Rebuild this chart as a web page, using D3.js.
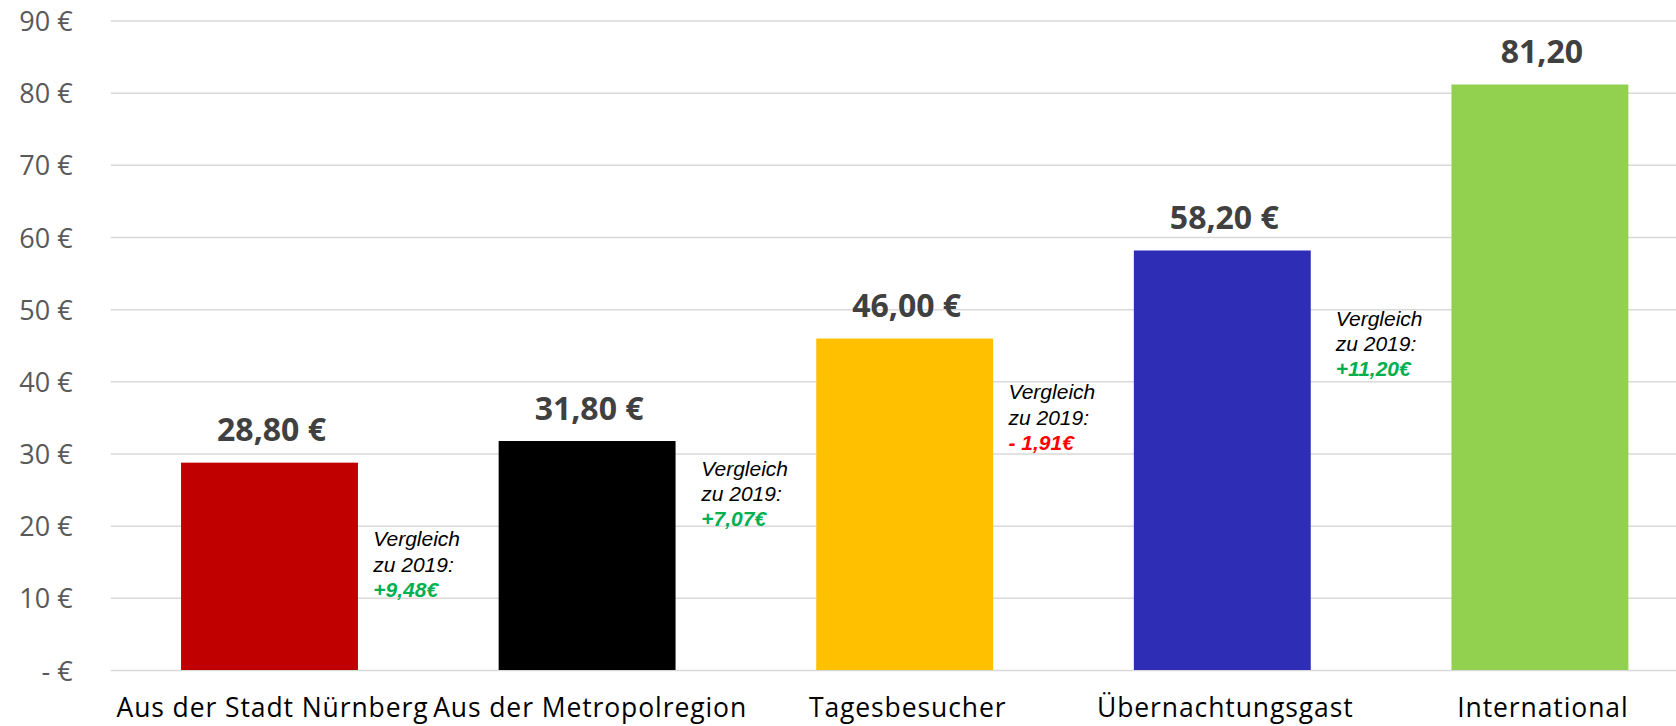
<!DOCTYPE html>
<html>
<head>
<meta charset="utf-8">
<script src="https://cdn.jsdelivr.net/npm/d3@7"></script>
<style>
  body { margin: 0; background: #fff; }
  svg { display: block; }
</style>
</head>
<body>
<div id="chart"></div>
<script>
// Data
const categories = ["Aus der Stadt Nürnberg", "Aus der Metropolregion", "Tagesbesucher", "Übernachtungsgast", "International"];
const values = [28.8, 31.8, 46.0, 58.2, 81.2];
const valueLabels = ["28,80 €", "31,80 €", "46,00 €", "58,20 €", "81,20"];
const deltaLabels = ["+9,48€", "+7,07€", "- 1,91€", "+11,20€"];
const deltaSigns = [1, 1, -1, 1];
const yTicks = [0, 10, 20, 30, 40, 50, 60, 70, 80, 90];
const yTickLabels = ["- €", "10 €", "20 €", "30 €", "40 €", "50 €", "60 €", "70 €", "80 €", "90 €"];

// Styles
const barColors = ["#c00000", "#000000", "#ffc000", "#2e2db6", "#92d050"];

const width = 1676;
const height = 726;
const margin = { top: 21, left: 110.7, bottom: 55.5 };

const svg = d3.select("#chart")
  .append("svg")
  .attr("width", width)
  .attr("height", height);

const xScale = d3.scaleBand()
  .domain(categories)
  .range([margin.left, margin.left + 5 * 317.6])
  .paddingInner(0.443)
  .paddingOuter(0.2215);

const yScale = d3.scaleLinear()
  .domain([0, 90])
  .range([height - margin.bottom, margin.top]);

// Gridlines
svg.append("g")
  .selectAll("line")
  .data(yTicks)
  .join("line")
  .attr("x1", margin.left)
  .attr("x2", width)
  .attr("y1", d => yScale(d))
  .attr("y2", d => yScale(d))
  .attr("stroke", "#d9d9d9")
  .attr("stroke-width", 1.5);

// Y tick labels
svg.append("g")
  .selectAll("text")
  .data(yTicks)
  .join("text")
  .attr("x", 72.7)
  .attr("y", d => yScale(d) + 10)
  .attr("text-anchor", "end")
  .attr("font-family", "'Open Sans', sans-serif")
  .attr("font-size", 27)
  .attr("fill", "#595959")
  .text((d, i) => yTickLabels[i]);

// Bars
svg.append("g")
  .selectAll("rect")
  .data(values)
  .join("rect")
  .attr("x", (d, i) => xScale(categories[i]))
  .attr("y", d => yScale(d))
  .attr("width", xScale.bandwidth())
  .attr("height", d => yScale(0) - yScale(d) - 0.5)
  .attr("fill", (d, i) => barColors[i]);

// Value labels
svg.append("g")
  .selectAll("text")
  .data(values)
  .join("text")
  .attr("x", (d, i) => xScale(categories[i]) + xScale.bandwidth() / 2 + 2)
  .attr("y", d => yScale(d) - 21.5)
  .attr("text-anchor", "middle")
  .attr("font-family", "'Open Sans', sans-serif")
  .attr("font-weight", "bold")
  .attr("font-size", 32)
  .attr("fill", "#404040")
  .text((d, i) => valueLabels[i]);

// Category labels
svg.append("g")
  .selectAll("text")
  .data(categories)
  .join("text")
  .attr("x", d => xScale(d) + xScale.bandwidth() / 2 + 3)
  .attr("y", 717)
  .attr("text-anchor", "middle")
  .attr("font-family", "'Open Sans', sans-serif")
  .attr("font-size", 26.5)
  .attr("letter-spacing", 0.9)
  .attr("fill", "#000")
  .text(d => d);

// "Vergleich zu 2019" notes, placed to the right of the first four bars
const noteDx = [15.3, 25.7, 15.3, 25];
const noteTop = [546, 475.7, 399, 325.7];

const notes = svg.append("g")
  .selectAll("text")
  .data(deltaLabels)
  .join("text")
  .attr("font-family", "'Liberation Sans', Arial, sans-serif")
  .attr("font-style", "italic")
  .attr("font-size", 21)
  .attr("transform", (d, i) =>
    `translate(${xScale(categories[i]) + xScale.bandwidth() + noteDx[i]},${noteTop[i]})`);

notes.append("tspan").attr("x", 0).attr("y", 0).attr("fill", "#000").text("Vergleich");
notes.append("tspan").attr("x", 0).attr("y", 25.5).attr("fill", "#000").text("zu 2019:");
notes.append("tspan")
  .attr("x", 0)
  .attr("y", 50.5)
  .attr("font-weight", "bold")
  .attr("fill", (d, i) => deltaSigns[i] > 0 ? "#00b050" : "#ff0000")
  .text(d => d);
</script>
</body>
</html>
